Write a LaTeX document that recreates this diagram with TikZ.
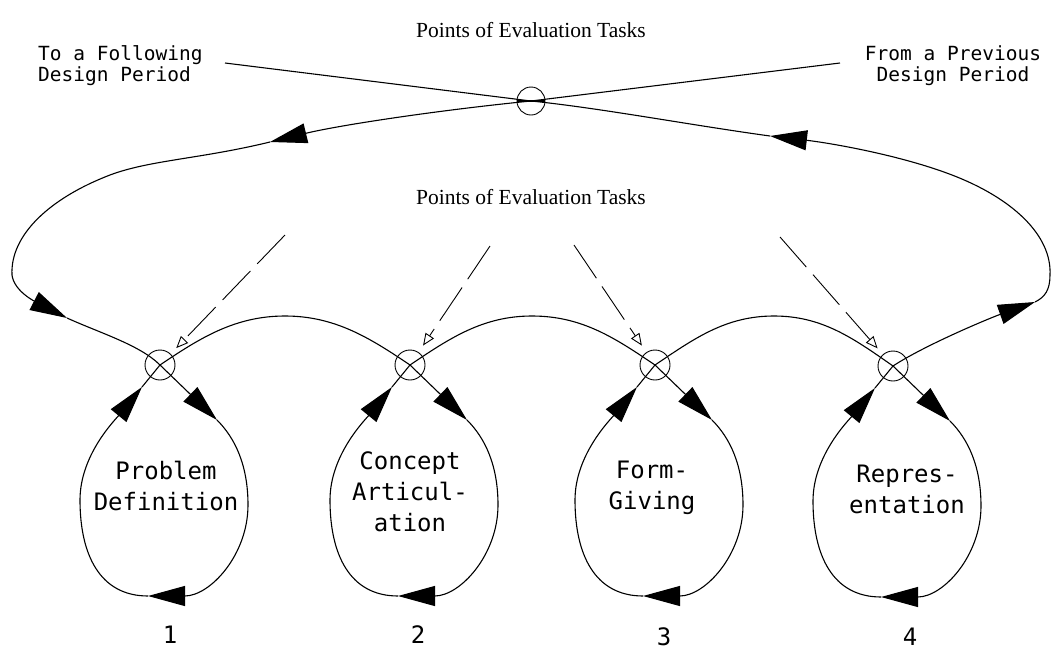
\documentclass[tikz,border=0pt]{standalone}
\usepackage{fontspec}
\setmainfont{Liberation Serif}
\newfontfamily\cadfont{DejaVu Sans Mono}
\usetikzlibrary{arrows.meta,calc}
\begin{document}
\begin{tikzpicture}[x=1pt,y=-1pt,
  line/.style={line width=1.1pt},
  flow/.style={line width=1.1pt,-{Triangle[length=37pt,width=20pt]}},
  junc/.style={circle,draw,line width=0.9pt,minimum size=30pt,inner sep=0pt},
  topjunc/.style={circle,draw,line width=0.9pt,minimum size=28pt,inner sep=0pt},
  evalarrow/.style={line width=0.9pt,dash pattern=on 40pt off 10pt,
    -{Triangle[open,length=12pt,width=10pt,line width=0.9pt]},shorten >=8pt},
  cadlabel/.style={font=\cadfont\fontsize{24}{31}\selectfont,align=center,inner sep=0pt},
  toplabel/.style={font=\cadfont\fontsize{19.5}{21}\selectfont,inner sep=0pt},
  numlabel/.style={font=\cadfont\fontsize{24}{28}\selectfont,inner sep=0pt},
  title/.style={font=\fontsize{21.5}{24}\selectfont,inner sep=0pt}]
\useasboundingbox (0,0) rectangle (1058,654);

% titles
\node[title] (t1) at (531,30) {Points of Evaluation Tasks};
\node[title] (t2) at (531,197) {Points of Evaluation Tasks};

% top labels
\node[toplabel,anchor=west,align=left] (lblL) at (38,66) {To a Following\\Design Period};
\node[toplabel,align=center] (lblR) at (953,66) {From a Previous\\Design Period};

% junctions
\node[topjunc] (tc) at (531,101) {};
\node[junc] (j1) at (160,365) {};
\node[junc] (j2) at (410,365) {};
\node[junc] (j3) at (655,365) {};
\node[junc] (j4) at (893,366) {};
\draw[line width=1.6pt] (tc.west) -- (tc.east);

% free ends
\coordinate (lt) at (225,63);
\coordinate (rt) at (840,63);
\coordinate (a1) at (270,142);
\coordinate (a2) at (67,318);
\coordinate (a3) at (1035,302);
\coordinate (a4) at (770,136);

% top straight lines
\draw[line] (tc.center) -- (lt);
\draw[line] (rt) -- (tc.center);

% outer path A (to stage 1)
\draw[flow] (tc.center) .. controls (440,110) and (340,125) .. (a1);
\draw[flow] (a1) .. controls (200,159) and (150,160) .. (110,175)
  .. controls (50,198) and (10,235) .. (12,275)
  .. controls (14,292) and (38,303) .. (a2);
\draw[line] (a2) .. controls (100,333) and (140,345) .. (j1.center);

% outer path B (from stage 4)
\draw[flow] (j4.center) .. controls (925,345) and (990,318) .. (a3);
\draw[flow] (a3) .. controls (1045,297) and (1050,290) .. (1050,275)
  .. controls (1052,235) and (1012,198) .. (952,175)
  .. controls (900,155) and (830,143) .. (a4);
\draw[line] (a4) .. controls (690,125) and (600,108) .. (tc.center);

% chain between stages
\draw[line] (j1.center) .. controls (200,338) and (235,316) .. (285,316)
  .. controls (335,316) and (370,338) .. (j2.center);
\draw[line] (j2.center) .. controls (450,338) and (483,316) .. (532,316)
  .. controls (582,316) and (615,338) .. (j3.center);
\draw[line] (j3.center) .. controls (695,338) and (726,316) .. (774,316)
  .. controls (822,316) and (853,338) .. (j4.center);

% loops
\foreach \j in {j1,j2,j3,j4}{
  \coordinate (\j-r) at ($(\j)+(57,55)$);
  \coordinate (\j-b) at ($(\j)+(-12,231)$);
  \coordinate (\j-l) at ($(\j)+(-18,22)$);
  \draw[flow] (\j.center) -- (\j-r);
  \draw[flow] (\j-r) .. controls ($(\j)+(75,73)$) and ($(\j)+(88,100)$) .. ($(\j)+(88,140)$)
    .. controls ($(\j)+(88,190)$) and ($(\j)+(50,231)$) .. (\j-b);
  \draw[flow] (\j-b) .. controls ($(\j)+(-60,231)$) and ($(\j)+(-80,190)$) .. ($(\j)+(-80,135)$)
    .. controls ($(\j)+(-80,90)$) and ($(\j)+(-45,55)$) .. (\j-l);
  \draw[line] (\j-l) -- (\j.center);
}

% evaluation arrows
\coordinate (e1) at (285,235);
\coordinate (e2) at (490,246);
\coordinate (e3) at (574,245);
\coordinate (e4) at (780,237);
\draw[evalarrow] (e1) -- (j1);
\draw[evalarrow] (e2) -- (j2);
\draw[evalarrow] (e3) -- (j3);
\draw[evalarrow] (e4) -- (j4);

% stage labels
\node[cadlabel] (s1) at (166,486) {Problem\\Definition};
\node[cadlabel] (s2) at (410,492) {Concept\\Articul-\\ation};
\node[cadlabel] (s3) at (652,488) {Form-\\Giving};
\node[cadlabel] (s4) at (907,489) {Repres-\\entation};

% numbers
\node[numlabel] (n1) at (170,635) {1};
\node[numlabel] (n2) at (418,635) {2};
\node[numlabel] (n3) at (664,637) {3};
\node[numlabel] (n4) at (910,637) {4};
\end{tikzpicture}
\end{document}
